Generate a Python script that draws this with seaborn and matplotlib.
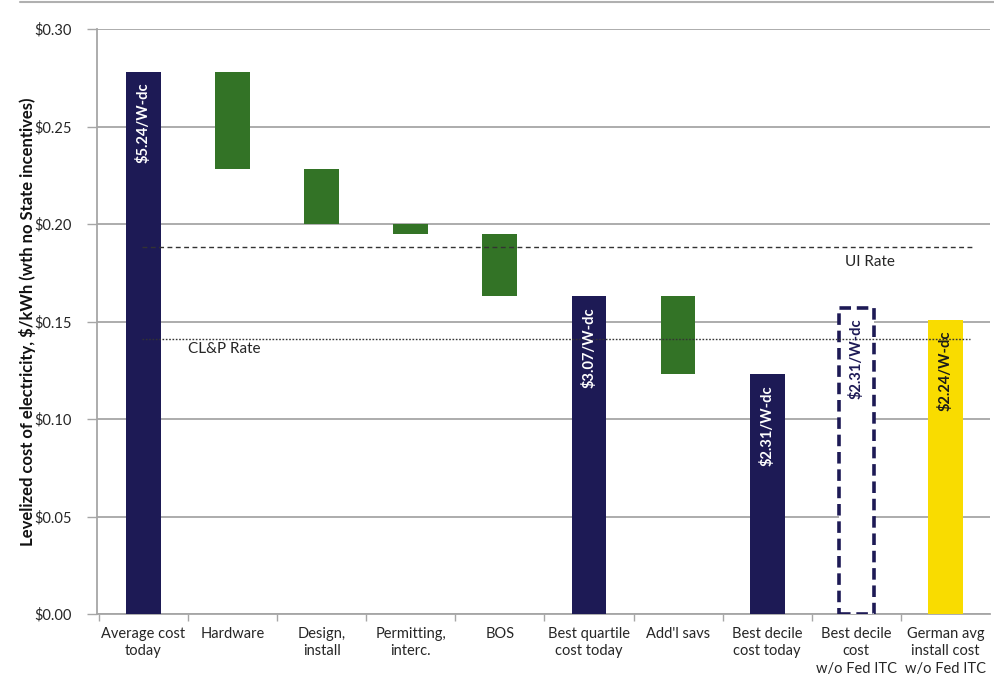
import matplotlib
matplotlib.use("Agg")
import matplotlib.pyplot as plt
import seaborn as sns
import numpy as np
import pandas as pd

# Waterfall of levelized cost of electricity
categories = [
    "Average cost\ntoday", "Hardware", "Design,\ninstall", "Permitting,\ninterc.", "BOS",
    "Best quartile\ncost today", "Add'l savs", "Best decile\ncost today",
    "Best decile\ncost\nw/o Fed ITC", "German avg\ninstall cost\nw/o Fed ITC",
]
bar_top = [0.278, 0.278, 0.228, 0.200, 0.195, 0.163, 0.163, 0.123, 0.157, 0.151]
bar_bottom = [0.0, 0.228, 0.200, 0.195, 0.163, 0.0, 0.123, 0.0, 0.0, 0.0]
bar_kind = ["total", "step", "step", "step", "step", "total", "step", "total", "outline", "german"]
bar_labels = ["$5.24/W-dc", "", "", "", "", "$3.07/W-dc", "", "$2.31/W-dc", "$2.31/W-dc", "$2.24/W-dc"]

ui_rate = 0.188
clp_rate = 0.141
y_ticks = [0.00, 0.05, 0.10, 0.15, 0.20, 0.25, 0.30]

NAVY = "#1d1a55"
GREEN = "#337326"
YELLOW = "#f9dc00"
GRID = "#a6a6a6"
TEXT = "#262626"

sns.set_theme(style="white")
plt.rcParams["font.family"] = ["Lato", "DejaVu Sans"]

fig = plt.figure(figsize=(9.95, 6.83), dpi=100)
ax = fig.add_axes([0.0975, 0.101, 0.8975, 0.8565])

df = pd.DataFrame({
    "category": categories,
    "top": bar_top,
    "bottom": bar_bottom,
    "kind": bar_kind,
})
df["height"] = df["top"] - df["bottom"]

width = 0.39

# Solid full-height bars through seaborn
solid = df.copy()
solid.loc[solid["kind"].isin(["step", "outline"]), "top"] = np.nan
sns.barplot(data=solid, x="category", y="top", hue="kind", order=categories,
            palette={"total": NAVY, "step": GREEN, "outline": "white", "german": YELLOW},
            width=width, dodge=False, legend=False, ax=ax, saturation=1, linewidth=0, zorder=3)

xs = np.arange(len(categories))
for i, row in df.iterrows():
    if row["kind"] == "step":
        ax.bar(xs[i], row["height"], bottom=row["bottom"], width=width,
               color=GREEN, linewidth=0, zorder=3)
    elif row["kind"] == "outline":
        ax.bar(xs[i], row["height"], bottom=row["bottom"], width=width,
               facecolor="white", edgecolor=NAVY, linewidth=2.6,
               linestyle=(0, (3.2, 1.6)), zorder=3)

# Value labels inside the bars
for i, row in df.iterrows():
    lab = bar_labels[i]
    if not lab:
        continue
    color = "white" if row["kind"] == "total" else NAVY if row["kind"] == "outline" else "#1a1a1a"
    ax.text(xs[i], row["top"] - 0.0055, lab, rotation=90, ha="center", va="top",
            color=color, fontsize=10.5, fontweight="bold", zorder=5)

# Reference rates
ax.plot([-0.02, 9.3], [ui_rate, ui_rate], color="#333333", lw=1.0,
        linestyle=(0, (3.5, 2.5)), zorder=4)
ax.plot([-0.02, 9.27], [clp_rate, clp_rate], color="#333333", lw=1.0,
        linestyle=(0, (1.2, 1.2)), zorder=4)
ax.text(8.15, ui_rate - 0.004, "UI Rate", ha="center", va="top", fontsize=11, color=TEXT)
ax.text(0.5, clp_rate - 0.0015, "CL&P Rate", ha="left", va="top", fontsize=11, color=TEXT)

# Axes styling
ax.set_xlim(-0.52, 9.5)
ax.set_ylim(0, 0.30)
ax.set_yticks(y_ticks)
ax.set_yticklabels([f"${v:.2f}" for v in y_ticks], fontsize=10.5, color=TEXT)
ax.yaxis.grid(True, color=GRID, linewidth=1.3, zorder=0)
ax.set_axisbelow(True)
ax.tick_params(axis="y", which="major", length=7, width=1, color=GRID, left=True, pad=11)

ax.set_xticks(xs)
ax.set_xticklabels(categories, fontsize=10.5, color=TEXT, linespacing=1.35)
ax.tick_params(axis="x", which="major", length=0, pad=9)
ax.set_xticks(np.arange(len(categories)) - 0.5, minor=True)
ax.tick_params(axis="x", which="minor", length=5, width=1, color=GRID, bottom=True)

ax.set_xlabel("")
ax.set_ylabel("Levelized cost of electricity, $/kWh (wth no State incentives)",
              fontsize=12, fontweight="bold", color="#111111")
ax.yaxis.set_label_coords(-0.0685, 0.5)

for side in ["top", "right"]:
    ax.spines[side].set_visible(False)
for side in ["left", "bottom"]:
    ax.spines[side].set_color(GRID)
    ax.spines[side].set_linewidth(1.3)

# thin frame line along the top edge
fig.add_artist(plt.Line2D([0.02, 1.0], [0.997, 0.997], transform=fig.transFigure,
                          color="#b0b0b0", lw=1.5))

fig.savefig("out.png", dpi=100)
